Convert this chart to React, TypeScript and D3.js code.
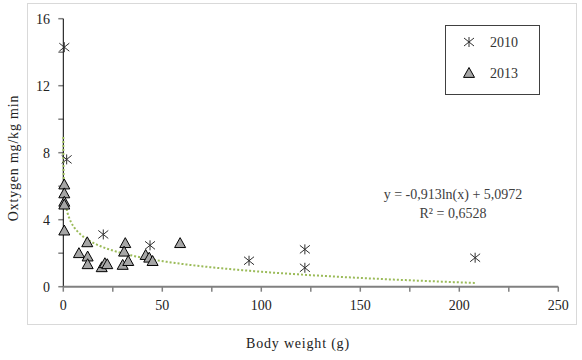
import React from "react";
import * as d3 from "d3";

const series2010X = [0.5, 1.7, 20.2, 43.8, 93.8, 122, 122, 208];
const series2010Y = [14.3, 7.6, 3.12, 2.47, 1.55, 2.23, 1.13, 1.73];
const series2013X = [0.5, 0.5, 0.5, 0.5, 0.5, 7.9, 12.1, 12.3, 12.3, 19.4, 21, 22.2, 31.3, 30.7, 30, 32.8, 41.6, 43.4, 45.1, 59];
const series2013Y = [6.1, 5.57, 5.07, 4.9, 3.35, 2.0, 2.65, 1.8, 1.34, 1.16, 1.4, 1.34, 2.6, 2.09, 1.3, 1.53, 1.89, 1.73, 1.53, 2.6];
const xTicks = [0, 25, 50, 75, 100, 125, 150, 175, 200, 225, 250];
const xLabels = [0, 50, 100, 150, 200, 250];
const yTicks = [0, 2, 4, 6, 8, 10, 12, 14, 16];
const yLabels = [0, 4, 8, 12, 16];
const trendA = -0.913;
const trendB = 5.0972;
const trendRange = [0.015, 208];
const legendLabels = ["2010", "2013"];
const equationLines = ["y = -0,913ln(x) + 5,0972", "R² = 0,6528"];

const W = 582, H = 360;
const left = 63.3, right = 558.3, top = 18.7, bottom = 286.7;
const FONT = "Liberation Serif, serif";
const TS = { fontFamily: FONT };

function Star({ x, y }: { x: number; y: number }) {
  const s = 5;
  return (
    <g stroke="#303030" strokeWidth={1}>
      <line x1={x - s} y1={y - s * 0.8} x2={x + s} y2={y + s * 0.8} />
      <line x1={x - s} y1={y + s * 0.8} x2={x + s} y2={y - s * 0.8} />
      <line x1={x} y1={y - s} x2={x} y2={y + s} />
    </g>
  );
}

function Tri({ x, y }: { x: number; y: number }) {
  const s = 5.5;
  return (
    <path
      d={`M${x},${y - s} L${x + s},${y + s * 0.8} L${x - s},${y + s * 0.8} Z`}
      fill="#a6a6a6"
      stroke="#000"
      strokeWidth={1}
    />
  );
}

export default function App() {
  const xs = d3.scaleLinear().domain([0, 250]).range([left, right]);
  const ys = d3.scaleLinear().domain([0, 16]).range([bottom, top]);

  const trendPts: [number, number][] = [];
  const n = 400;
  const lmin = Math.log(trendRange[0]);
  for (let i = 0; i <= n; i++) {
    const xv = i < 100 ? Math.exp(lmin + (Math.log(5) - lmin) * (i / 100)) : 5 + (trendRange[1] - 5) * ((i - 100) / (n - 100));
    trendPts.push([xv, trendA * Math.log(xv) + trendB]);
  }
  const line = d3
    .line<[number, number]>()
    .x((d) => xs(d[0]))
    .y((d) => ys(Math.min(d[1], 16)));

  return (
    <svg width={W} height={H} style={{ position: "absolute", left: 0, top: 0 }}>
      <rect x={0} y={0} width={W} height={H} fill="#fff" />
      <rect x={27.5} y={3.5} width={549} height={321} fill="none" stroke="#d9d9d9" strokeWidth={1} />

      {yTicks.map((t) => (
        <line key={"yt" + t} x1={left - 5} x2={left} y1={ys(t)} y2={ys(t)} stroke="#808080" strokeWidth={1.5} />
      ))}
      {xTicks.map((t) => (
        <line key={"xt" + t} x1={xs(t)} x2={xs(t)} y1={bottom} y2={bottom + 5} stroke="#808080" strokeWidth={1.5} />
      ))}
      {yLabels.map((t) => (
        <text key={"yl" + t} x={50} y={ys(t)} dy="0.35em" textAnchor="end" fontSize={14} fill="#222" style={TS}>
          {t}
        </text>
      ))}
      {xLabels.map((t) => (
        <text key={"xl" + t} x={xs(t)} y={305} dy="0.35em" textAnchor="middle" fontSize={14} fill="#222" style={TS}>
          {t}
        </text>
      ))}

      <line x1={left} x2={left} y1={top} y2={bottom} stroke="#000" strokeWidth={1} />
      <line x1={left} x2={right} y1={bottom} y2={bottom} stroke="#808080" strokeWidth={2} />

      <path d={line(trendPts) || ""} fill="none" stroke="#9bbb59" strokeWidth={2} strokeDasharray="2 2" />

      {series2013X.map((x, i) => (
        <Tri key={"t" + i} x={xs(x)} y={ys(series2013Y[i])} />
      ))}
      {series2010X.map((x, i) => (
        <Star key={"s" + i} x={xs(x)} y={ys(series2010Y[i])} />
      ))}

      {equationLines.map((l, i) => (
        <text key={"eq" + i} x={453} y={194 + i * 19} dy="0.35em" textAnchor="middle" fontSize={14} fill="#404040" style={TS}>
          {l}
        </text>
      ))}

      <rect x={445.5} y={25.5} width={94} height={69} fill="#fff" stroke="#404040" strokeWidth={1} />
      <Star x={469} y={42} />
      <text x={490} y={42} dy="0.35em" fontSize={14} fill="#333" style={TS}>{legendLabels[0]}</text>
      <Tri x={469} y={73} />
      <text x={490} y={73} dy="0.35em" fontSize={14} fill="#333" style={TS}>{legendLabels[1]}</text>

      <text x={298} y={343} dy="0.35em" textAnchor="middle" fontSize={14} fill="#222" letterSpacing={0.8} style={TS}>
        Body weight (g)
      </text>
      <text transform={`translate(13,158) rotate(-90)`} textAnchor="middle" dy="0.35em" fontSize={14} fill="#222" letterSpacing={0.8} style={TS}>
        Oxtygen mg/kg min
      </text>
    </svg>
  );
}
